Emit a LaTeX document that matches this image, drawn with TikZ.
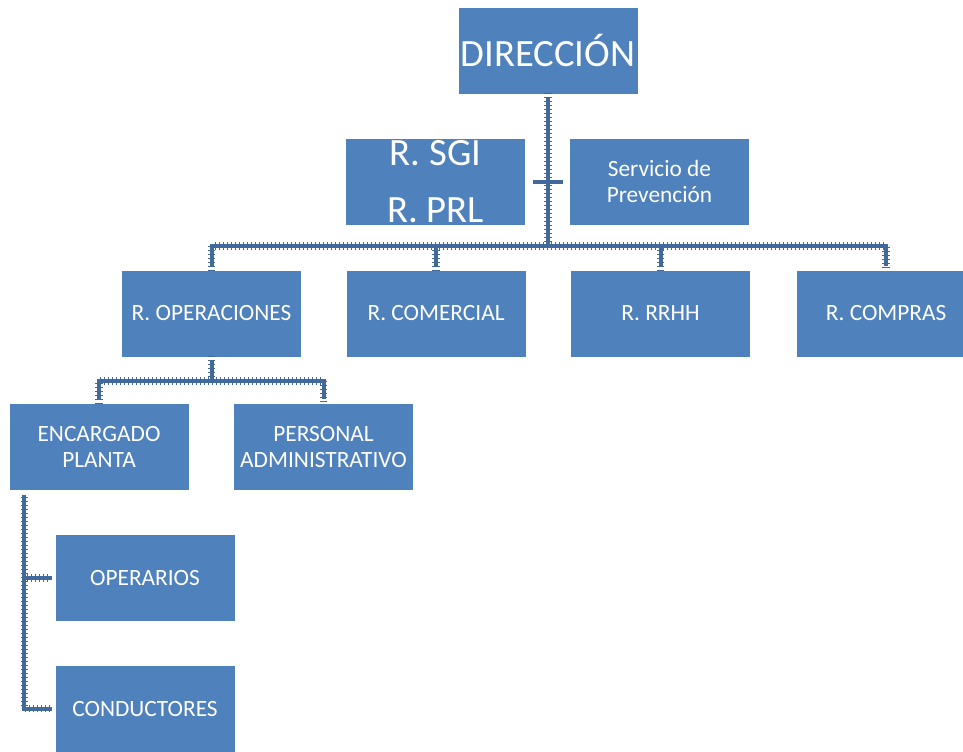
\documentclass[tikz,border=0pt]{standalone}
\usepackage{fontspec}
\setmainfont{Carlito}
\usetikzlibrary{positioning}
\usetikzlibrary{calc}
\usetikzlibrary{decorations.pathreplacing}
\definecolor{boxblue}{HTML}{4F81BD}
\definecolor{lineblue}{HTML}{41699C}

\begin{document}
\begin{tikzpicture}[
    x=0.75pt, y=-0.75pt,
    obox/.style={fill=boxblue, text=white, inner sep=0, minimum width=134.25pt, minimum height=64.5pt, align=center, font=\fontsize{17.5}{19.5}\selectfont},
    bigbox/.style={obox, font=\fontsize{29}{43}\selectfont},
    oline/.style={draw=lineblue, line width=3pt, line cap=rect,
        postaction={draw=lineblue, line width=0.6pt, decorate, decoration={ticks, segment length=3pt, amplitude=2.5pt}}}
]
\useasboundingbox (0,0) rectangle (963,751);

% Direccion
\node[bigbox] (dir) at (548,50.5) {DIRECCIÓN};
\node[bigbox] (sgi) at (435.5,181.5) {R. SGI\\R. PRL};
\node[obox] (serv) at (659.5,181.5) {Servicio de\\Prevención};

% Responsables
\node[obox] (ops) at (211.5,313.5) {R. OPERACIONES};
\node[obox, right=33.75pt of ops] (com) {R. COMERCIAL};
\node[obox, right=33.75pt of com] (rrhh) {R. RRHH};
\node[obox, right=34.5pt of rrhh] (compras) {R. COMPRAS};

% Operaciones
\node[obox] (enc) at (99,447) {ENCARGADO\\PLANTA};
\node[obox] (adm) at (323.5,447) {PERSONAL\\ADMINISTRATIVO};
\node[obox] (opr) at (145,578) {OPERARIOS};
\node[obox, below=33pt of opr] (cond) {CONDUCTORES};

% connectors
\coordinate (bus) at (dir.south |- 0,246);
\coordinate (ast) at (dir.south |- sgi.east);
\draw[oline, shorten <=5pt] (dir.south) -- (bus);
\draw[draw=lineblue, line width=3pt] ([xshift=-11pt]ast) -- ([xshift=11pt]ast);
\draw[oline, shorten <=4.5pt, shorten >=4.5pt] (ops.north) |- (bus) -| (compras.north);
\draw[oline, shorten >=4.5pt] (bus -| com.north) -- (com.north);
\draw[oline, shorten >=4.5pt] (bus -| rrhh.north) -- (rrhh.north);

\coordinate (obus) at (ops.south |- 0,381);
\draw[oline, shorten <=5pt] (ops.south) -- (obus);
\draw[oline, shorten <=5pt, shorten >=5pt] (enc.north) |- (obus) -| (adm.north);

\coordinate (etop) at ($(enc.south west)+(15,7)$);
\draw[oline] (etop) |- ([xshift=-4pt]opr.west);
\draw[oline] (etop) |- ([xshift=-4pt]cond.west);
\end{tikzpicture}
\end{document}
